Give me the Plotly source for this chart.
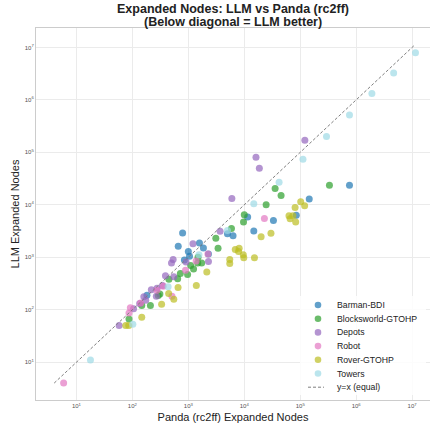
import plotly.graph_objects as go

domains = ["Barman-BDI", "Blocksworld-GTOHP", "Depots", "Robot", "Rover-GTOHP", "Towers"]
colors = ["#1f77b4", "#2ca02c", "#9467bd", "#e377c2", "#bcbd22", "#9edae5"]

barman_x = [182, 660, 790, 850, 1000, 1050, 1580, 1860, 2290, 5000, 6300, 11500, 14800, 33200, 85000, 145000, 760000]
barman_y = [190, 1620, 2890, 890, 1290, 1050, 1870, 1510, 1150, 2820, 2570, 5880, 3180, 5000, 6300, 12900, 23500]

blocks_x = [87, 147, 210, 290, 310, 450, 645, 720, 970, 1100, 1240, 1470, 1730, 1490, 3100, 3400, 5900, 9700, 10000, 24600, 35600, 45500, 333000]
blocks_y = [67, 120, 120, 187, 200, 380, 390, 490, 470, 700, 600, 780, 780, 1000, 2300, 1480, 3550, 4700, 6500, 10000, 20400, 15100, 23500]

depots_x = [58, 105, 135, 160, 173, 218, 268, 275, 345, 390, 500, 535, 550, 910, 1210, 2290, 3700, 6000, 16200, 18600, 121000]
depots_y = [50, 105, 131, 177, 151, 240, 180, 257, 290, 445, 780, 910, 425, 810, 1810, 830, 3150, 13200, 81000, 50000, 170000]

robot_x = [5.9, 87, 92, 140, 275, 355, 510, 890, 1380, 2240, 22900]
robot_y = [4.0, 87, 109, 135, 235, 280, 180, 565, 850, 1150, 5500]

rover_x = [76, 86, 147, 333, 445, 550, 655, 1390, 2140, 5500, 5500, 6900, 7900, 8100, 9600, 9800, 15200, 20000, 30000, 63000, 66000, 74000, 81000, 83000, 102000, 120000]
rover_y = [50, 50, 72, 127, 205, 158, 265, 290, 525, 910, 760, 1410, 1290, 1490, 1120, 980, 980, 2460, 2880, 6200, 5400, 6200, 8900, 4700, 11500, 9600]

towers_x = [17.8, 102, 435, 1550, 5000, 14800, 41900, 112000, 295000, 760000, 1.91e6, 4.68e6, 1.15e7]
towers_y = [11, 53, 275, 1120, 3240, 10500, 26900, 74000, 200000, 513000, 1.32e6, 3.24e6, 7.95e6]

diag_min, diag_max = 4.0, 1.12e7
diag_label = "y=x (equal)"

title_lines = ["Expanded Nodes: LLM vs Panda (rc2ff)", "(Below diagonal = LLM better)"]

tick_vals = [10, 100, 1000, 10000, 100000, 1000000, 10000000]
tick_text = ["10<sup>1</sup>", "10<sup>2</sup>", "10<sup>3</sup>", "10<sup>4</sup>",
             "10<sup>5</sup>", "10<sup>6</sup>", "10<sup>7</sup>"]

series = [
    (barman_x, barman_y), (blocks_x, blocks_y), (depots_x, depots_y),
    (robot_x, robot_y), (rover_x, rover_y), (towers_x, towers_y),
]

FONT = "Liberation Sans, Arial, sans-serif"
W, H = 430, 429
ML, MR, MT, MB = 36, 0, 28, 29
PW, PH = W - ML - MR, H - MT - MB


def px_x(p):
    return (p - ML) / PW


def px_y(p):
    return (H - MB - p) / PH


fig = go.Figure()
for name, col, (xs, ys) in zip(domains, colors, series):
    fig.add_trace(go.Scatter(
        x=xs, y=ys, mode="markers", name=name, showlegend=False,
        marker=dict(color=col, size=7, opacity=0.7, line=dict(width=0)),
    ))

fig.add_trace(go.Scatter(
    x=[diag_min, diag_max], y=[diag_min, diag_max], mode="lines",
    name=diag_label, showlegend=False,
    line=dict(color="#7f7f7f", width=1, dash="3px,2px"),
))

# ---- compact legend (matplotlib-like), drawn with shapes + annotations ----
shapes = []
annotations = []
leg_left, leg_right, leg_top, leg_bot = 300, 426, 296, 395
shapes.append(dict(type="rect", xref="paper", yref="paper", layer="above",
                   x0=px_x(leg_left), x1=px_x(leg_right), y0=px_y(leg_bot), y1=px_y(leg_top),
                   fillcolor="rgba(255,255,255,0.85)", line=dict(width=0)))
row0, row_step = 305.0, 13.7
mark_x, text_x = 318, 335
labels = domains + [diag_label]
for i, lab in enumerate(labels):
    ry = row0 + i * row_step
    if i < len(domains):
        shapes.append(dict(type="circle", xref="paper", yref="paper", layer="above",
                           xsizemode="pixel", ysizemode="pixel",
                           xanchor=px_x(mark_x), yanchor=px_y(ry),
                           x0=-3.3, x1=3.3, y0=-3.3, y1=3.3,
                           fillcolor=colors[i], opacity=0.7, line=dict(width=0)))
    else:
        shapes.append(dict(type="line", xref="paper", yref="paper", layer="above",
                           x0=px_x(308), x1=px_x(324), y0=px_y(ry), y1=px_y(ry),
                           line=dict(color="#7f7f7f", width=1, dash="3px,2px")))
    annotations.append(dict(text=lab, xref="paper", yref="paper",
                            x=px_x(text_x), y=px_y(ry), xanchor="left", yanchor="middle",
                            showarrow=False, font=dict(size=8.7, color="#222222", family=FONT)))

# two-line bold title, each line placed separately for tight line spacing
for line, cy in zip(title_lines, [9.5, 22.5]):
    annotations.append(dict(
        text="<b>" + line + "</b>",
        xref="paper", yref="paper", x=0.5, y=px_y(cy), xanchor="center", yanchor="middle",
        showarrow=False, font=dict(size=12.5, color="#222222", family=FONT),
    ))

axis_common = dict(
    type="log", tickvals=tick_vals, ticktext=tick_text,
    showgrid=True, gridcolor="#ebebeb", gridwidth=1,
    showline=True, linecolor="#cccccc", linewidth=1, mirror=True,
    ticks="", zeroline=False,
    tickfont=dict(size=6, color="#555555", family=FONT),
)

fig.update_layout(
    width=W, height=H,
    margin=dict(l=ML, r=MR, t=MT, b=MB),
    plot_bgcolor="white", paper_bgcolor="white",
    font=dict(family=FONT, color="#222222"),
    xaxis=dict(axis_common, range=[0.277, 7.32],
               title=dict(text="Panda (rc2ff) Expanded Nodes", standoff=5,
                          font=dict(size=11, color="#222222"))),
    yaxis=dict(axis_common, range=[0.28, 7.37],
               title=dict(text="LLM Expanded Nodes", standoff=2,
                          font=dict(size=11, color="#222222"))),
    shapes=shapes,
    annotations=annotations,
    showlegend=False,
)

fig.write_html("out.html")
